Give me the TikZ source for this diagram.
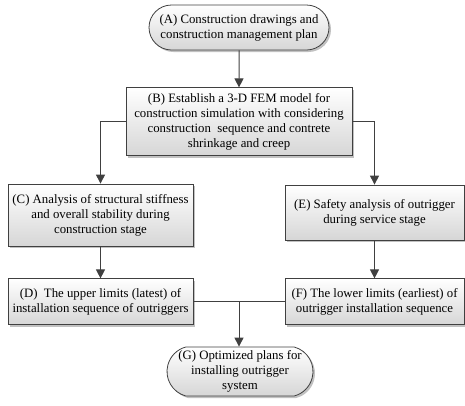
\documentclass[tikz,border=0pt]{standalone}
\usepackage{fontspec}
\setmainfont{Liberation Serif}
\usepackage{tikz}
\usetikzlibrary{arrows.meta,positioning,shapes.misc,shadows,calc}
\definecolor{edge}{HTML}{404040}
\definecolor{boxbot}{HTML}{D6D6D6}

\begin{document}
\begin{tikzpicture}[x=1pt,y=-1pt,>={Triangle[length=9pt,width=9pt]},
  every node/.style={font=\fontsize{12.8}{15}\selectfont,align=center,inner sep=1pt},
  stepbox/.style={draw=edge,line width=0.8pt,top color=white,bottom color=boxbot,
    drop shadow={shadow xshift=2pt,shadow yshift=-2pt,fill=gray!70,opacity=0.7}},
  termbox/.style={stepbox,rounded rectangle}]
\useasboundingbox (0,0) rectangle (465,405);
\node[termbox,minimum width=182pt,minimum height=45pt] (a) at (239,27.5) {(A) Construction drawings and\\construction management plan};
\node[stepbox,minimum width=226pt,minimum height=68pt,below=37pt of a] (b) {(B) Establish a 3-D FEM model for\\construction simulation with considering\\construction\ \ sequence and contrete\\shrinkage and creep};
\node[stepbox,minimum width=185pt,minimum height=62pt] (c) at (100.5,215) {(C) Analysis of structural stiffness\\and overall stability during\\construction stage};
\node[stepbox,minimum width=179pt,minimum height=55pt] (e) at (374.5,212.5) {(E) Safety analysis of outrigger\\during service stage};
\node[stepbox,minimum width=185pt,minimum height=46pt,below=32pt of c] (d) {(D)\ \ The upper limits (latest) of\\installation sequence of outriggers};
\node[stepbox,minimum width=179pt,minimum height=46pt] (f) at (e.center |- d.center) {(F) The lower limits (earliest) of\\outrigger installation sequence};
\node[termbox,minimum width=146pt,minimum height=49pt,inner xsep=0pt,rounded rectangle arc length=150] (g) at (240,371.5) {(G) Optimized plans for\\installing outrigger\\system};
\coordinate (j) at ($(d.east)!0.5!(f.west)$);
\draw[->,edge,line width=1pt] (a) -- (b);
\draw[->,edge,line width=1pt] (b.west) -| (c.north);
\draw[->,edge,line width=1pt] (b.east) -| (e.north);
\draw[->,edge,line width=1pt] (c) -- (d);
\draw[->,edge,line width=1pt] (e) -- (f);
\draw[edge,line width=1pt] (d.east) -- (f.west);
\draw[->,edge,line width=1pt] (j) -- (j |- g.north);
\end{tikzpicture}
\end{document}
